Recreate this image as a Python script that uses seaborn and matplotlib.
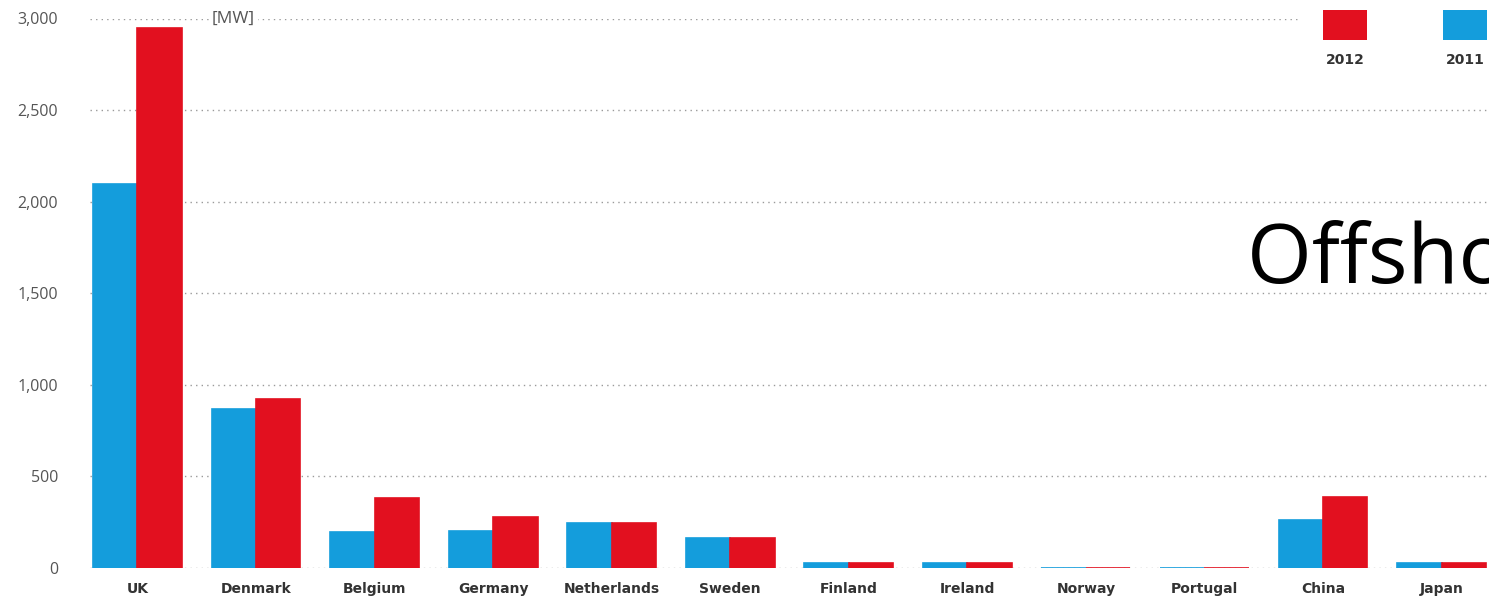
import matplotlib
matplotlib.use("Agg")
import matplotlib.pyplot as plt
import matplotlib.patches as mpatches
import seaborn as sns
import pandas as pd

countries = ["UK", "Denmark", "Belgium", "Germany", "Netherlands", "Sweden",
             "Finland", "Ireland", "Norway", "Portugal", "China", "Japan"]
mw_2011 = [2094, 870, 197, 201, 246, 164, 26, 25, 2, 2, 263, 25]
mw_2012 = [2948, 921, 382, 281, 246, 164, 26, 25, 2, 2, 390, 25]
years = ["2011", "2012"]
yticks = [0, 500, 1000, 1500, 2000, 2500, 3000]

BLUE = "#149DDC"
RED = "#E2101F"

df = pd.DataFrame({
    "country": countries * 2,
    "year": [years[0]] * len(countries) + [years[1]] * len(countries),
    "mw": mw_2011 + mw_2012,
})

sns.set_theme(style="white")
plt.rcParams["font.family"] = ["Open Sans", "DejaVu Sans"]

W, H = 1489, 600
fig = plt.figure(figsize=(W / 100, H / 100), dpi=100)
ax = fig.add_axes([90 / W, (H - 568) / H, (W - 90) / W, (568 - 18.5) / H])

sns.barplot(data=df, x="country", y="mw", hue="year", hue_order=years,
            order=countries, palette=[BLUE, RED], width=0.75, gap=0,
            saturation=1, ax=ax, legend=False, linewidth=1.2,
            edgecolor=None, zorder=3)
for bar in ax.patches:
    bar.set_edgecolor(bar.get_facecolor())

ax.set_xlim(-0.40, 11.40)
ax.set_ylim(0, 3000)
ax.set_yticks(yticks)
ax.set_yticklabels([f"{v:,}" for v in yticks], fontsize=11.5, color="#555555")
ax.set_xlabel("")
ax.set_ylabel("")
for s in ax.spines.values():
    s.set_visible(False)
ax.tick_params(axis="y", length=0, pad=23)
ax.tick_params(axis="x", length=0, pad=10)
for lab in ax.get_xticklabels():
    lab.set_fontfamily("DejaVu Sans")
    lab.set_fontweight("bold")
    lab.set_fontsize(10)
    lab.set_color("#333333")
ax.yaxis.grid(True, color="#9a9a9a", linestyle=(0, (1, 3)), linewidth=1.0, zorder=0)
ax.set_axisbelow(True)

# unit label
fig.text(212 / W, 1 - 19 / H, "[MW]", fontsize=12.5, color="#555555",
         va="center", ha="left",
         bbox=dict(facecolor="white", edgecolor="none", pad=2))

# legend area
fig.patches.append(mpatches.Rectangle((1300 / W, 1 - 72 / H), 189 / W, 72 / H,
                                      transform=fig.transFigure, facecolor="white",
                                      edgecolor="none", zorder=5))
for x0, col, lab in [(1323, RED, years[1]), (1443, BLUE, years[0])]:
    fig.patches.append(mpatches.Rectangle((x0 / W, 1 - 40 / H), 44 / W, 30 / H,
                                          transform=fig.transFigure, facecolor=col,
                                          edgecolor="none", zorder=6))
    fig.text((x0 + 22) / W, 1 - 60 / H, lab, fontsize=10, fontweight="bold",
             family="DejaVu Sans", color="#333333", ha="center", va="center",
             zorder=7)

# overlapping title fragment (cut by the right edge, as in the reference)
fig.text(1247 / W, 1 - 262 / H, "Offshore wind", fontsize=60, color="black",
         ha="left", va="center")

fig.savefig("out.png", dpi=100)
